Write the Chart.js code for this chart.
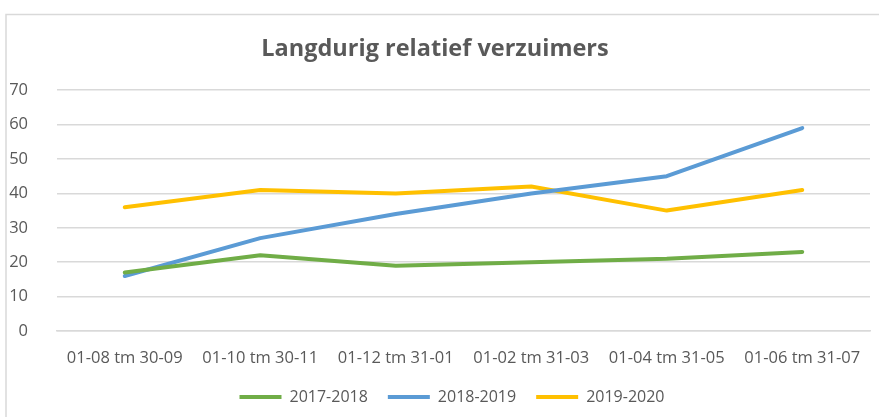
<!DOCTYPE html>
<html>
<head>
<meta charset="utf-8">
<script src="https://cdn.jsdelivr.net/npm/chart.js@4/dist/chart.umd.min.js"></script>
<style>
  html, body { margin: 0; padding: 0; background: #fff; }
  #wrap { width: 879px; height: 417px; }
</style>
</head>
<body>
<div id="wrap"><canvas id="verzuimChart" width="879" height="417"></canvas></div>
<script>
var periods = ['01-08 tm 30-09', '01-10 tm 30-11', '01-12 tm 31-01', '01-02 tm 31-03', '01-04 tm 31-05', '01-06 tm 31-07'];
var yr1718 = [17, 22, 19, 20, 21, 23];
var yr1819 = [16, 27, 34, 40, 45, 59];
var yr1920 = [36, 41, 40, 42, 35, 41];

var textGrey = '#595959';
var gridGrey = '#d9d9d9';

// light frame round the chart, like the excel chart area
var frame = {
    id: 'frame',
    beforeDraw: function (chart) {
        var c = chart.ctx;
        c.save();
        c.fillStyle = '#fff';
        c.fillRect(0, 0, chart.width, chart.height);
        c.strokeStyle = gridGrey;
        c.lineWidth = 1.5;
        c.strokeRect(6, 14.5, 900, 500);
        c.restore();
    }
};

// excel centres the legend a bit more to the right
var legendShift = {
    id: 'legendShift',
    afterLayout: function (chart) {
        chart.legend.left += 17;
        chart.legend.right += 17;
    }
};

function line(label, data, color) {
    return {
        label: label,
        data: data,
        borderColor: color,
        backgroundColor: color,
        borderWidth: 4,
        borderCapStyle: 'round',
        borderJoinStyle: 'round',
        pointRadius: 0,
        pointHoverRadius: 0,
        tension: 0,
        fill: false
    };
}

var ctx = document.getElementById('verzuimChart');
var myChart = new Chart(ctx, {
    type: 'line',
    data: {
        labels: periods,
        datasets: [
            line('2017-2018', yr1718, '#70ad47'),
            line('2018-2019', yr1819, '#5b9bd5'),
            line('2019-2020', yr1920, '#ffc000')
        ]
    },
    plugins: [frame, legendShift],
    options: {
        responsive: false,
        animation: false,
        layout: {
            padding: { top: 14, right: 9, left: 0, bottom: 2 }
        },
        plugins: {
            title: {
                display: true,
                text: 'Langdurig relatief verzuimers',
                color: textGrey,
                font: { family: 'Open Sans', size: 23.5, weight: 'bold' },
                padding: { top: 21, bottom: 27 }
            },
            legend: {
                position: 'bottom',
                labels: {
                    color: textGrey,
                    font: { family: 'Open Sans', size: 16 },
                    usePointStyle: true,
                    pointStyle: 'line',
                    pointStyleWidth: 42,
                    boxWidth: 42,
                    padding: 20
                }
            },
            tooltip: { enabled: false }
        },
        scales: {
            x: {
                offset: true,
                afterFit: function (scale) { scale.height = 38; },
                grid: { display: false, drawTicks: false },
                border: { color: gridGrey, width: 1.5 },
                ticks: {
                    color: textGrey,
                    font: { family: 'Open Sans', size: 16.5 },
                    padding: 17,
                    maxRotation: 0,
                    autoSkip: false
                }
            },
            y: {
                min: 0,
                max: 70,
                afterFit: function (scale) { scale.width = 57; },
                grid: { color: gridGrey, lineWidth: 1.5, drawTicks: false },
                border: { display: false },
                ticks: {
                    stepSize: 10,
                    color: textGrey,
                    font: { family: 'Open Sans', size: 16.5 },
                    padding: 29
                }
            }
        }
    }
});
</script>
</body>
</html>
